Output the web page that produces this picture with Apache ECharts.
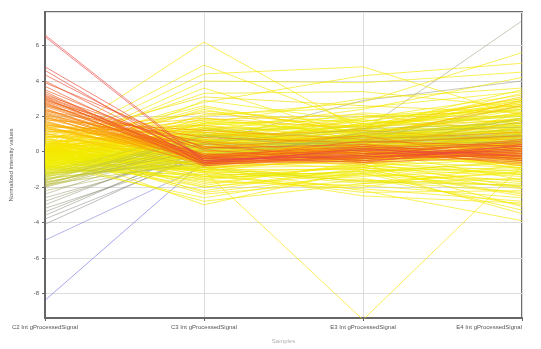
<!DOCTYPE html>
<html>
<head>
<meta charset="utf-8">
<script src="https://cdn.jsdelivr.net/npm/echarts@6/dist/echarts.min.js"></script>
<style>
    html, body { margin: 0; padding: 0; background: #fff; }
    #chart { width: 541px; height: 349px; }
</style>
</head>
<body>
<div id="chart"></div>
<script>
// columns of the profile plot
let categories = ['C2 Int gProcessedSignal', 'C3 Int gProcessedSignal', 'E3 Int gProcessedSignal', 'E4 Int gProcessedSignal'];

// one row per entity: [C2, C3, E3, E4]
let redProfiles = [
    [6.6, -0.5, -0.2, 0.3], [6.5, -0.6, 0.1, -0.2], [4.8, -0.4, -0.3, 0.1], [4.6, -0.7, 0.2, -0.5],
    [4.35, -0.3, -0.6, 0.4], [4.0, -0.5, -0.1, 0.0], [3.9, 0.2, 0.4, -0.3], [3.7, -0.6, -0.4, 0.2],
    [3.5, -0.2, 0.3, -0.4], [3.4, -0.8, -0.2, 0.6], [3.2, 0.1, -0.5, -0.1], [3.1, -0.4, 0.6, 0.3],
    [3.0, -0.5, 0.0, -0.6], [2.9, 0.3, -0.3, 0.1], [2.8, -0.7, -0.1, -0.2], [2.7, -0.2, 0.2, 0.5],
    [2.6, 0.5, -0.6, -0.3], [3.3, -0.6, -0.3, -0.2], [3.15, -0.3, 0.1, 0.4], [3.05, -0.7, -0.5, 0.0],
    [2.95, -0.4, 0.0, -0.4], [2.85, -0.2, -0.4, 0.3], [2.75, -0.6, 0.3, -0.1], [2.65, -0.5, -0.2, 0.7]
];
let orangeProfiles = [
    [2.4, -0.3, 0.1, -0.1], [2.3, 0.8, 0.5, 0.9], [2.2, -0.5, -0.4, 0.2], [2.1, 0.2, 0.9, -0.5],
    [2.0, -0.8, 0.0, 0.4], [1.9, 0.6, -0.2, -0.3], [1.8, 1.2, 0.7, 1.1], [1.7, -0.4, -0.7, 0.0],
    [1.6, 0.0, 0.3, -0.8], [1.5, 0.9, 1.2, 0.6], [1.4, -0.6, -0.3, 0.3], [1.3, 0.4, 0.1, -0.2],
    [1.2, -0.2, 0.6, 0.8], [1.1, 1.5, 0.2, -0.4], [1.05, -0.9, -0.5, 0.1], [1.0, 0.3, -0.1, 0.5],
    [0.95, 2.2, 1.4, 1.8], [0.9, -0.3, 0.5, -0.6], [0.85, 0.7, -0.2, 0.2], [0.8, 1.8, 2.1, 1.0],
    [0.75, -0.5, 0.0, -0.3], [0.7, 0.2, 0.8, 1.4], [0.65, 3.1, 2.6, 2.2], [0.6, -0.8, -0.6, 0.0],
    [0.55, 1.0, 0.4, 0.7], [0.5, -1.1, -9.5, -0.8], [0.45, 0.5, 1.6, -0.5], [0.4, -0.2, -0.4, 1.2],
    [0.35, 2.6, 1.0, 0.3], [2.55, -0.3, 0.1, -0.7], [2.45, -0.7, -0.3, 0.2], [2.35, -0.4, 0.2, -0.3],
    [2.25, -0.1, -0.5, 0.5], [2.15, -0.6, 0.0, -0.1], [2.05, -0.3, 0.4, 0.1], [1.95, -0.5, -0.2, -0.5],
    [1.85, -0.2, 0.1, 0.3], [1.75, -0.7, -0.4, -0.2], [1.65, -0.4, 0.3, 0.6], [1.55, -0.1, -0.1, -0.4],
    [1.45, -0.6, 0.2, 0.0], [1.35, -0.3, -0.3, 0.4]
];
let yellowProfiles = [
    [0.3, 6.2, 1.2, 2.8], [0.2, 4.9, 1.5, 3.0], [0.1, 4.4, 4.8, 2.0], [0.0, 3.6, 0.8, 1.5],
    [-0.1, 4.0, 3.9, 4.5], [0.25, 3.3, 3.4, 2.5], [0.15, 2.8, 4.3, 5.0], [0.05, 2.0, 2.8, 5.6],
    [-0.05, 1.6, 3.0, 3.6], [-0.15, 1.2, 2.4, 4.2], [-0.2, 0.8, 1.9, 3.2], [-0.25, 2.4, 0.6, 1.3],
    [-0.3, 0.4, 1.3, 2.6], [-0.35, -0.4, 0.7, 1.9], [-0.4, 1.4, -0.2, 0.9], [-0.45, 0.0, 1.1, 2.1],
    [-0.5, -0.7, 0.3, 0.6], [-0.55, 0.9, 2.2, 1.6], [-0.6, 1.9, 0.9, 2.4], [-0.65, -0.2, -0.8, -1.2],
    [-0.7, 0.6, 0.2, 1.0], [-0.75, -1.4, -1.3, -2.0], [-0.8, 2.9, 1.7, 2.9], [-0.85, 0.2, -0.5, -0.9],
    [-0.9, -1.0, -1.8, -1.5], [-0.95, 1.1, 0.4, 1.7], [0.28, -1.6, -2.1, -2.8], [0.12, -2.0, -1.2, -3.3],
    [-0.02, -1.3, -2.3, -2.2], [0.22, -2.4, -1.6, -1.9], [-0.12, -0.9, -2.2, -3.9], [0.18, -3.0, -1.0, -2.5],
    [0.08, -1.8, -0.7, -3.1], [0.2, 0.1, -0.3, -0.7], [-0.1, 0.5, 0.6, 0.2], [0.0, -0.4, 0.2, 0.8],
    [0.1, 1.0, -0.1, -0.4], [-0.2, -0.1, 0.9, 0.4], [-0.3, 1.3, 1.5, 0.1], [0.25, 0.7, 1.8, 1.2],
    [-0.4, -0.6, -0.9, 0.3], [0.15, 1.7, 0.5, -1.0], [-0.6, 0.3, -0.4, -0.2], [-0.7, -0.3, 0.1, -1.6],
    [-0.8, 1.6, 1.2, 0.5], [0.05, -0.7, 1.0, 1.1], [-0.5, 2.1, 2.5, 3.4], [-0.9, 0.8, 2.0, 2.3],
    [-1.0, 0.4, 0.9, 1.5], [-1.1, -0.8, 0.5, 1.0], [-1.2, 1.2, 1.4, 2.0], [-1.3, 0.0, -0.3, 0.7],
    [-1.4, 0.7, 0.6, 1.3], [-1.5, -0.5, 1.1, 0.4], [-1.6, 1.0, 0.2, 1.9], [-1.7, -0.2, 0.8, 0.9],
    [-1.8, 0.5, 1.3, 1.6], [-1.9, 0.9, 0.1, 0.6],
    [1.5, 0.4, 0.9, 2.6], [1.4, 1.1, 0.3, 1.7], [1.3, -0.3, 0.6, 2.9], [1.2, 0.6, -0.2, 1.2],
    [1.1, 1.9, 1.3, 3.1], [1.0, -0.6, 0.1, 0.9], [0.9, 0.2, 1.0, 2.2], [0.8, 1.3, 0.5, 0.4],
    [0.7, -0.9, -0.4, 1.5], [0.6, 0.6, 1.5, 2.7], [0.5, -0.1, 0.2, -0.8], [0.45, 1.5, 0.8, 1.9],
    [0.4, 0.3, -0.7, 0.6], [0.35, -0.5, 1.2, 3.3], [0.3, 1.1, 0.3, -0.3], [0.28, 0.0, -0.1, 1.4],
    [0.26, -1.2, -0.9, -1.7], [0.24, 2.3, 1.6, 2.1], [0.2, 0.8, 1.3, 2.9], [0.18, -0.5, 0.4, 0.1],
    [0.16, 1.4, 0.0, 1.0], [0.14, 0.2, 1.9, 2.4], [0.12, -0.8, 0.7, 1.8], [0.1, 1.8, 1.0, 0.5],
    [0.08, 0.5, -0.6, -1.3], [0.06, -0.2, 1.4, 2.7], [0.04, 1.2, 0.6, 1.6], [0.02, -1.1, -0.2, 0.2],
    [0.0, 0.9, 1.7, 3.0], [-0.02, 0.1, 0.0, -0.9], [-0.04, 2.5, 1.1, 1.9], [-0.06, -0.6, 0.8, 1.2],
    [-0.08, 0.7, -0.5, 0.6], [-0.1, 1.5, 2.0, 2.6], [-0.13, -0.3, 0.4, -0.5], [-0.16, 0.4, 1.2, 1.5],
    [-0.19, 1.0, -0.3, 2.2], [-0.22, -1.0, 0.1, 0.8], [-0.25, 0.6, 0.9, -0.2], [-0.28, 1.7, 1.4, 3.5],
    [-0.31, -0.1, -0.6, -1.1], [-0.34, 0.9, 0.3, 1.1], [-0.37, 0.2, 1.6, 2.0], [-0.4, -0.7, 0.5, 0.3],
    [-0.44, 1.3, 0.2, 1.4], [-0.48, 0.1, 1.0, 2.5], [-0.52, -0.4, -0.3, -0.6], [-0.56, 0.7, 0.7, 1.8],
    [-0.6, 1.6, 1.8, 1.0], [-0.64, -0.2, 0.1, 0.9], [-0.68, 0.5, 1.3, 2.8], [-0.72, -0.9, -0.8, -0.4],
    [-0.76, 1.0, 0.6, 1.3], [-0.8, 0.3, -0.1, 0.2], [-0.85, -0.5, 0.9, 1.6], [-0.9, 1.4, 1.1, 2.2],
    [-0.95, 0.0, 0.3, -0.3], [-1.0, 0.6, 1.5, 2.4], [-1.05, -0.3, -0.4, 0.5], [-1.1, 1.1, 0.8, 1.1],
    [-1.15, 0.2, 0.2, 1.9], [-1.2, -0.7, 0.6, 0.0], [-1.25, 0.8, 1.2, 1.4], [-1.3, 0.4, -0.2, 0.8],
    [-1.35, 1.3, 0.7, 2.6], [-1.4, -0.1, 1.0, 1.2], [-1.45, 0.5, 0.4, 0.3], [-1.55, -0.4, 0.9, 1.8],
    [-1.65, 0.9, 0.1, 1.0], [-1.75, 0.1, 0.6, 0.5], [-1.85, -0.6, 1.1, 1.4], [-1.95, 0.4, 0.5, 0.9],
    [0.3, -1.5, -1.1, -0.6], [0.1, -1.2, -1.6, -2.3], [-0.1, -2.2, -0.9, -1.4], [-0.3, -1.7, -1.9, -2.6],
    [-0.5, -1.0, -1.4, -1.0], [-0.7, -2.6, -1.2, -1.8], [0.2, -0.8, -1.7, -1.2], [0.0, -1.9, -0.6, -2.0],
    [-0.2, -1.4, -2.0, -0.7], [-0.4, -2.0, -1.0, -2.4], [-0.6, -1.1, -1.5, -3.0], [-0.8, -1.6, -0.8, -1.3],
    [-1.0, -1.3, -1.2, -0.5], [-1.2, -0.9, -1.7, -1.9], [0.4, -2.3, -1.3, -1.6], [0.6, -1.4, -0.9, -2.1],
    [-0.15, -1.1, -2.5, -2.9], [-0.45, -2.8, -1.8, -1.1], [0.15, -1.0, -1.0, -3.5], [-0.9, -1.5, -1.1, -0.9]
];
let grayProfiles = [
    [-2.0, 0.2, 0.7, 0.8], [-2.2, -0.4, 0.9, 0.9], [-2.4, 0.6, 0.8, 1.2], [-2.6, -0.1, 0.6, 0.7],
    [-2.8, 0.2, 1.2, 7.4], [-3.0, 0.5, 2.9, 4.0], [-3.2, -0.3, 0.5, 0.8], [-3.4, 0.1, 0.8, 1.0],
    [-3.6, 0.3, 0.6, 0.9], [-3.8, -0.2, 0.9, 0.7], [-4.1, 0.0, 0.7, 1.1]
];
let blueProfiles = [
    [-5.0, -0.8, 0.4, 0.6], [-8.4, -0.55, 0.2, 0.5]
];

// colour follows the C2 value
let colorStops = [
    [-8.4, [80, 80, 225]], [-5, [110, 110, 210]], [-4, [128, 128, 128]], [-2.5, [150, 150, 105]],
    [-1.6, [200, 205, 50]], [-0.8, [240, 238, 0]], [0.5, [248, 228, 0]], [1.3, [250, 192, 0]],
    [2, [247, 150, 10]], [3, [240, 100, 25]], [4.5, [236, 70, 50]], [6.6, [232, 70, 70]]
];
const colorOf = (v) => {
    if (v <= colorStops[0][0]) return 'rgb(' + colorStops[0][1].join(',') + ')';
    for (let i = 1; i < colorStops.length; i++) {
        let [v1, c1] = colorStops[i];
        let [v0, c0] = colorStops[i - 1];
        if (v <= v1) {
            let t = (v - v0) / (v1 - v0);
            return 'rgb(' + c0.map((c, k) => Math.round(c + (c1[k] - c) * t)).join(',') + ')';
        }
    }
    return 'rgb(' + colorStops[colorStops.length - 1][1].join(',') + ')';
};

// low profiles go underneath, the rest ordered so the extremes sit on top
let upper = [...yellowProfiles, ...orangeProfiles, ...redProfiles];
upper.sort((a, b) => Math.abs(a[0]) - Math.abs(b[0]));
let rows = [...grayProfiles, ...blueProfiles, ...upper];

let series = rows.map((r) => ({
    type: 'line',
    data: r,
    symbol: 'none',
    silent: true,
    animation: false,
    lineStyle: { color: colorOf(r[0]), width: 1, opacity: r[0] < -2 ? 0.5 : 0.65 }
}));

let myChart = echarts.init(document.getElementById('chart'));
let option = {
    backgroundColor: '#fff',
    grid: { left: 40, right: 19, top: 12, bottom: 24, show: true, borderColor: '#6e6e6e', borderWidth: 2 },
    xAxis: {
        type: 'category',
        data: categories,
        boundaryGap: false,
        name: 'Samples',
        nameLocation: 'middle',
        nameGap: 20,
        nameTextStyle: { fontSize: 6, color: '#b0b0b0' },
        axisLine: { onZero: false, lineStyle: { color: '#666', width: 2 } },
        axisTick: { show: true, length: 3, lineStyle: { color: '#666' } },
        axisLabel: { fontSize: 6, color: '#555', margin: 6, alignMaxLabel: 'right' },
        splitLine: { show: true, lineStyle: { color: '#dcdcdc', width: 1 } }
    },
    yAxis: {
        type: 'value',
        min: -9.4,
        max: 7.9,
        splitNumber: 9,
        name: 'Normalized intensity values',
        nameLocation: 'middle',
        nameGap: 31,
        nameTextStyle: { fontSize: 6, color: '#555' },
        axisLine: { show: true, lineStyle: { color: '#666', width: 2 } },
        axisTick: { show: true, length: 3, lineStyle: { color: '#666' } },
        axisLabel: { fontSize: 6, color: '#555', margin: 6, showMinLabel: false, showMaxLabel: false },
        splitLine: { show: true, lineStyle: { color: '#dcdcdc', width: 1 } }
    },
    series: series
};
myChart.setOption(option);
</script>
</body>
</html>
